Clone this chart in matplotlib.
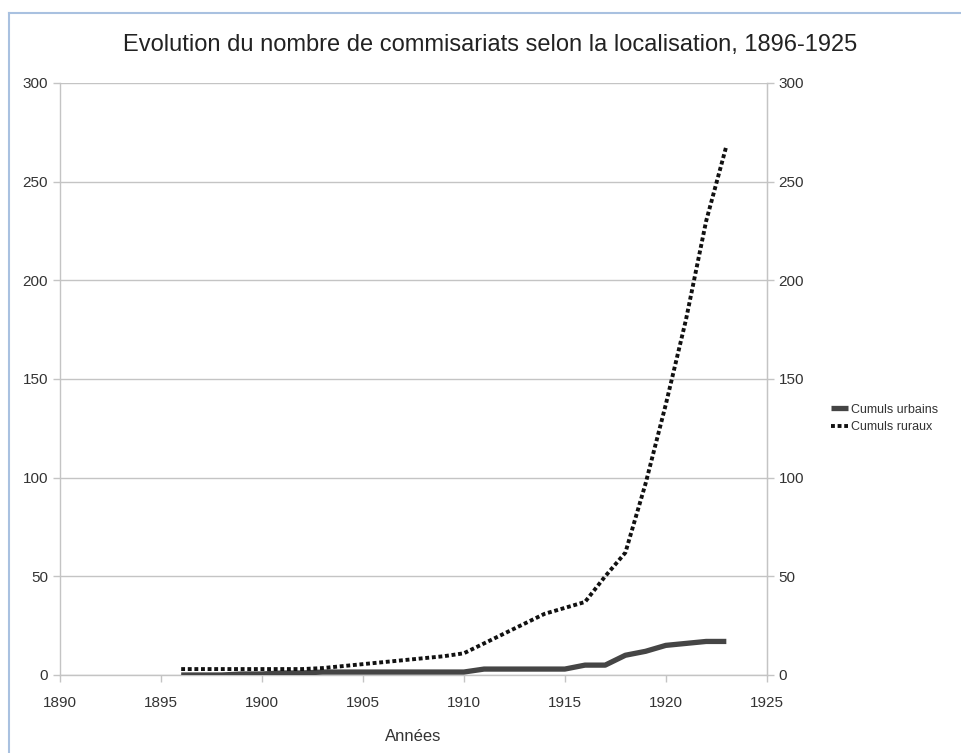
import numpy as np
import matplotlib
matplotlib.use("Agg")
import matplotlib.pyplot as plt
from matplotlib.lines import Line2D

plt.rcParams['font.family'] = ['Liberation Sans', 'DejaVu Sans']

years = list(range(1896, 1924))
urbains = [0, 0, 0, 0.5, 0.5, 1, 1, 1.5, 1.5, 1.5, 1.5, 1.5, 1.5, 1.5, 1.5,
           3, 3, 3, 3, 3, 5, 5, 10, 12, 15, 16, 17, 17]
ruraux = [3, 3, 3, 3, 3, 3, 3, 3.5, 4.5, 5.5, 6.5, 7.5, 8.5, 9.5, 11,
          16, 21, 26, 31, 34, 37, 50, 62, 97, 137, 180, 230, 268]

x_ticks = list(range(1890, 1926, 5))
y_ticks = list(range(0, 301, 50))

fig = plt.figure(figsize=(9.62, 7.53), dpi=100)
ax = fig.add_axes([0.0624, 0.1036, 0.7346, 0.7862])

grid_col = "#c4c4c4"
txt_col = "#333333"

ax.plot(years, urbains, color="#454545", lw=3.8, solid_capstyle="butt",
        label="Cumuls urbains", zorder=3)
ax.plot(years, ruraux, color="#111111", lw=2.8, linestyle=(0, (1, 0.7)),
        dash_capstyle="butt", label="Cumuls ruraux", zorder=4)

ax.set_xlim(1890, 1925)
ax.set_ylim(0, 300)
ax.set_xticks(x_ticks)
ax.set_yticks(y_ticks)
ax.yaxis.grid(True, color=grid_col, lw=1)
ax.set_axisbelow(True)

ax.spines["top"].set_visible(False)
for s in ["left", "right", "bottom"]:
    ax.spines[s].set_color(grid_col)
    ax.spines[s].set_linewidth(1)

ax.tick_params(axis="both", colors=grid_col, length=5, width=1,
               labelcolor=txt_col, labelsize=11)
ax.tick_params(axis="x", pad=10)

ax2 = ax.twinx()
ax2.set_ylim(0, 300)
ax2.set_yticks(y_ticks)
for s in ["top", "left", "bottom"]:
    ax2.spines[s].set_visible(False)
ax2.spines["right"].set_color(grid_col)
ax2.tick_params(axis="y", colors=grid_col, length=5, width=1,
                labelcolor=txt_col, labelsize=11)

ax.set_xlabel("Années", fontsize=12, color=txt_col, labelpad=14)
fig.text(0.509, 0.94, "Evolution du nombre de commisariats selon la localisation, 1896-1925",
         ha="center", va="center", fontsize=17, color="#222222")

h, l = ax.get_legend_handles_labels()
fig.legend(h, l, loc="center left", bbox_to_anchor=(0.852, 0.444),
           frameon=False, fontsize=9, handlelength=1.4, handletextpad=0.2,
           labelspacing=0.45, labelcolor=txt_col)

# cadre bleu clair
fig.add_artist(Line2D([0.0094, 0.0094], [0, 0.983], color="#a9c1e0", lw=1.5,
                      transform=fig.transFigure))
fig.add_artist(Line2D([0.0094, 1], [0.983, 0.983], color="#a9c1e0", lw=1.5,
                      transform=fig.transFigure))

fig.savefig("out.png", dpi=100)
